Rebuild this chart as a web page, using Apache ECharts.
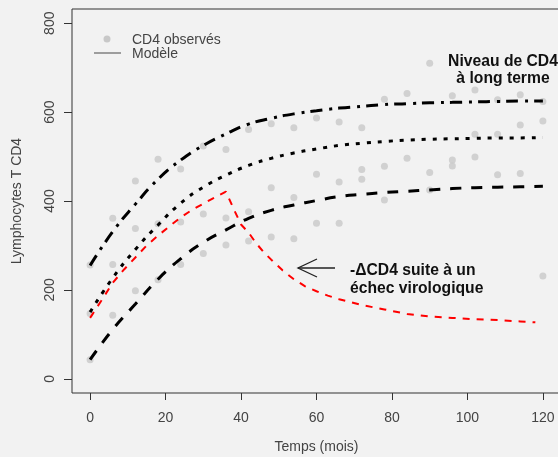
<!DOCTYPE html>
<html>
<head>
<meta charset="utf-8">
<script src="https://cdn.jsdelivr.net/npm/echarts@6/dist/echarts.min.js"></script>
<style>
  html, body { margin: 0; padding: 0; background: #f2f2f2; }
  #main { width: 558px; height: 457px; }
</style>
</head>
<body>
<div id="main"></div>
<script>
// temps de mesure (mois)
var mois = [0, 6, 12, 18, 24, 30, 36, 42, 48, 54, 60, 66, 72, 78, 84, 90, 96, 102, 108, 114, 120];

// CD4 observés, trois patients (null = pas de mesure)
var obsHaut = [256, 361, 445, 494, 472, 524, 516, 561, 574, 565, 587, 578, 565, 629, 642, 710, 637, 650, 628, 639, 624];
var obsMilieu = [147, 257, 338, 349, 353, 371, 362, 376, 430, 408, 460, 443, 471, 478, 496, 464, 492, 550, 550, 571, 580];
var obsBas = [43, 143, 198, 223, 257, 282, 301, 310, 319, 315, 350, 350, 449, 402, null, 425, 479, 499, 459, 462, 231];

// courbes du modèle
var modeleHaut = [255, 331, 393, 449, 492, 525, 551, 573, 586, 596, 603, 609, 613, 617, 619, 621, 622, 623, 624, 625, 625];
var modeleMilieu = [150, 227, 291, 346, 395, 431, 458, 480, 496, 508, 517, 525, 530, 534, 537, 539, 540, 541, 542, 542, 543];
var modeleBas = [43, 111, 168, 224, 270, 307, 335, 361, 379, 391, 401, 410, 415, 419, 422, 425, 428, 430, 431, 432, 433];

// échec virologique (courbe rouge)
var moisEchec = [0, 3, 6, 9, 12, 15, 18, 21, 24, 27, 30, 33, 36, 38, 40, 42, 44, 46, 48, 51, 54, 57, 60, 63, 66, 72, 78, 84, 90, 96, 102, 108, 114, 118];
var cd4Echec = [137, 176, 216, 246, 273, 300, 322, 343, 363, 380, 394, 408, 421, 383, 347, 329, 305, 285, 268, 244, 224, 208, 197, 187, 179, 166, 156, 146, 140, 137, 134, 132, 129, 127];

// graduations
var ticksX = [0, 20, 40, 60, 80, 100, 120];
var ticksY = [0, 200, 400, 600, 800];

var myChart = echarts.init(document.getElementById('main'));

function zip (xs, ys) {
  var res = [];
  for (var i = 0; i < xs.length; i++) {
    if (ys[i] != null) res.push([xs[i], ys[i]]);
  }
  return res;
}

var points = zip(mois, obsHaut).concat(zip(mois, obsMilieu)).concat(zip(mois, obsBas));

var axisText = { color: '#444', fontSize: 14, fontFamily: 'Liberation Sans' };

var option = {
  backgroundColor: '#f2f2f2',
  animation: false,
  textStyle: { fontFamily: 'Liberation Sans' },
  grid: {
    left: 72, top: 9, right: -3, bottom: 64,
    outerBoundsMode: 'none',
    containLabel: false,
    show: true, borderColor: '#333', borderWidth: 1,
    backgroundColor: 'transparent'
  },
  xAxis: {
    type: 'value',
    min: -4.8, max: 124.8,
    axisLine: { show: false, onZero: false },
    axisTick: { show: true, length: 7, customValues: ticksX, lineStyle: { color: '#333' } },
    axisLabel: { customValues: ticksX, margin: 18, color: axisText.color, fontSize: 14 },
    splitLine: { show: false },
    name: 'Temps (mois)',
    nameLocation: 'middle',
    nameGap: 47,
    nameTextStyle: axisText
  },
  yAxis: {
    type: 'value',
    min: -32, max: 832,
    axisLine: { show: false, onZero: false },
    axisTick: { show: true, length: 8, customValues: ticksY, lineStyle: { color: '#333' } },
    axisLabel: { customValues: ticksY, rotate: 90, margin: 15, color: axisText.color, fontSize: 14 },
    splitLine: { show: false },
    name: 'Lymphocytes T CD4',
    nameLocation: 'middle',
    nameGap: 48,
    nameTextStyle: axisText
  },
  series: [
    {
      name: 'CD4 observés',
      type: 'scatter',
      data: points,
      symbolSize: 7,
      itemStyle: { color: '#c8c8c8' },
      z: 1
    },
    {
      type: 'line', data: zip(mois, modeleHaut), smooth: true, symbol: 'none',
      lineStyle: { color: '#000', width: 3, type: [12, 7, 3, 6] }, z: 2
    },
    {
      type: 'line', data: zip(mois, modeleMilieu), smooth: true, symbol: 'none',
      lineStyle: { color: '#000', width: 3, type: [4, 7] }, z: 2
    },
    {
      type: 'line', data: zip(mois, modeleBas), smooth: true, symbol: 'none',
      lineStyle: { color: '#000', width: 3, type: [11, 10] }, z: 2
    },
    {
      type: 'line', data: zip(moisEchec, cd4Echec), smooth: false, symbol: 'none',
      lineStyle: { color: '#ff0000', width: 2, type: [7, 7] }, z: 3
    }
  ],
  graphic: [
    // légende
    { type: 'circle', shape: { cx: 107, cy: 39, r: 3.5 }, style: { fill: '#c8c8c8' } },
    { type: 'line', shape: { x1: 94, y1: 53, x2: 121, y2: 53 }, style: { stroke: '#808080', lineWidth: 1.5 } },
    { type: 'text', style: { text: 'CD4 observés', x: 132, y: 40, verticalAlign: 'middle', font: '14px "Liberation Sans"', fill: '#444' } },
    { type: 'text', style: { text: 'Modèle', x: 132, y: 54, verticalAlign: 'middle', font: '14px "Liberation Sans"', fill: '#444' } },
    // annotations
    { type: 'text', style: { text: 'Niveau de CD4\nà long terme', x: 503, y: 53, align: 'center', verticalAlign: 'top', lineHeight: 17, font: 'bold 15.7px "Liberation Sans"', fill: '#111' } },
    { type: 'text', style: { text: '-\u0394CD4 suite à un\néchec virologique', x: 350, y: 261, align: 'left', verticalAlign: 'top', lineHeight: 18.5, font: 'bold 15.7px "Liberation Sans"', fill: '#111' } },
    { type: 'polyline', shape: { points: [[317, 259], [298, 268], [317, 277]] }, style: { stroke: '#222', lineWidth: 1.3, fill: null } },
    { type: 'line', shape: { x1: 298, y1: 268, x2: 335, y2: 268 }, style: { stroke: '#222', lineWidth: 1.3 } }
  ]
};

myChart.setOption(option);
</script>
</body>
</html>
